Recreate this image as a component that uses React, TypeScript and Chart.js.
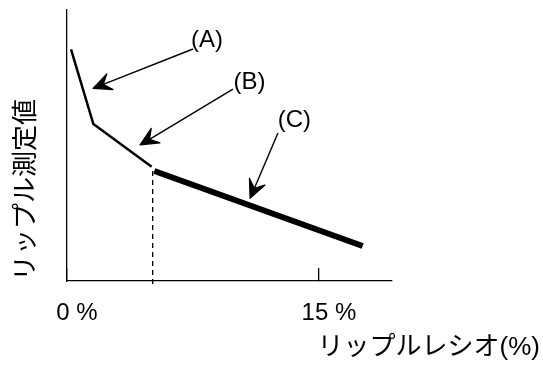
import React, { useEffect, useRef } from "react";
import { Chart, registerables } from "chart.js";
Chart.register(...registerables);

// ---- data ----
const xTickValues = [0, 15];
const xTickLabels = ["0 %", "15 %"];
const xMin = 0;
const xMax = 19.35;
const yMin = 0;
const yMax = 100;

const thinX = [0.24, 1.57, 5.04];
const thinY = [85.5, 57.9, 42.2];
const thickX = [5.2, 17.6];
const thickY = [40.6, 12.9];
const dashX = [5.1, 5.1];
const dashY = [40.6, -2.6];

const noteLabels = ["(A)", "(B)", "(C)"];
const noteLabelX = [8.33, 10.86, 13.54];
const noteLabelY = [88.9, 73.4, 59.2];
const arrowFromX = [7.5, 9.88, 12.56];
const arrowFromY = [85.6, 70.8, 54.6];
const arrowToX = [1.55, 4.35, 10.9];
const arrowToY = [71.1, 50.2, 30.5];

const yTitle = "リップル測定値";
const xTitle = "リップルレシオ(%)";

const FONT = '"Liberation Sans", "Noto Sans CJK JP", sans-serif';

const toPts = (xs: number[], ys: number[]) => xs.map((x, i) => ({ x, y: ys[i] }));

const annotationPlugin = {
  id: "notes",
  afterDatasetsDraw(chart: any) {
    const { ctx, scales } = chart;
    const xs = scales.x;
    const ys = scales.y;
    ctx.save();
    ctx.strokeStyle = "#000";
    ctx.fillStyle = "#000";
    for (let i = 0; i < noteLabels.length; i++) {
      const x1 = xs.getPixelForValue(arrowFromX[i]);
      const y1 = ys.getPixelForValue(arrowFromY[i]);
      const x2 = xs.getPixelForValue(arrowToX[i]);
      const y2 = ys.getPixelForValue(arrowToY[i]);
      const ang = Math.atan2(y1 - y2, x1 - x2);
      const len = 20;
      const notch = 11;
      const spread = (25 * Math.PI) / 180;
      ctx.lineWidth = 1.4;
      ctx.beginPath();
      ctx.moveTo(x1, y1);
      ctx.lineTo(x2 + notch * Math.cos(ang), y2 + notch * Math.sin(ang));
      ctx.stroke();
      ctx.lineWidth = 1.2;
      ctx.lineJoin = "round";
      ctx.beginPath();
      ctx.moveTo(x2, y2);
      ctx.lineTo(x2 + len * Math.cos(ang + spread), y2 + len * Math.sin(ang + spread));
      ctx.lineTo(x2 + notch * Math.cos(ang), y2 + notch * Math.sin(ang));
      ctx.lineTo(x2 + len * Math.cos(ang - spread), y2 + len * Math.sin(ang - spread));
      ctx.closePath();
      ctx.fill();
      ctx.stroke();
      ctx.font = `24px ${FONT}`;
      ctx.textAlign = "center";
      ctx.textBaseline = "middle";
      ctx.fillText(
        noteLabels[i],
        xs.getPixelForValue(noteLabelX[i]),
        ys.getPixelForValue(noteLabelY[i])
      );
    }
    ctx.restore();
  },
  afterDraw(chart: any) {
    const { ctx } = chart;
    ctx.save();
    ctx.fillStyle = "#000";
    ctx.font = `26px ${FONT}`;
    ctx.textAlign = "right";
    ctx.textBaseline = "middle";
    ctx.fillText(xTitle, chart.width - 3, 348);
    ctx.restore();
  },
};

export default function App() {
  const ref = useRef<HTMLCanvasElement | null>(null);
  useEffect(() => {
    document.body.style.margin = "0";
    const chart = new Chart(ref.current as HTMLCanvasElement, {
      type: "line",
      data: {
        datasets: [
          {
            data: toPts(thinX, thinY),
            borderColor: "#000",
            borderWidth: 2.5,
            pointRadius: 0,
            tension: 0,
          },
          {
            data: toPts(thickX, thickY),
            borderColor: "#000",
            borderWidth: 6,
            pointRadius: 0,
            tension: 0,
          },
          {
            data: toPts(dashX, dashY),
            borderColor: "#000",
            borderWidth: 1.3,
            borderDash: [5, 4],
            pointRadius: 0,
            clip: false,
          } as any,
        ],
      },
      options: {
        animation: false,
        responsive: true,
        maintainAspectRatio: false,
        layout: { padding: { top: 10, right: 151, left: 0, bottom: 0 } },
        plugins: { legend: { display: false }, tooltip: { enabled: false } },
        scales: {
          x: {
            type: "linear",
            min: xMin,
            max: xMax,
            afterBuildTicks: (s: any) => {
              s.ticks = xTickValues.map((v) => ({ value: v }));
            },
            afterFit: (s: any) => {
              s.height = 86;
            },
            ticks: {
              color: "#000",
              font: { family: FONT, size: 24 },
              padding: 31,
              labelOffset: 10,
              maxRotation: 0,
              autoSkip: false,
              callback: (v: any) => xTickLabels[xTickValues.indexOf(Number(v))] ?? "",
            },
            grid: {
              display: true,
              drawOnChartArea: false,
              drawTicks: true,
              tickLength: -13,
              color: "#000",
              lineWidth: 1.3,
            },
            border: { display: true, color: "#000", width: 1.3 },
          },
          y: {
            type: "linear",
            min: yMin,
            max: yMax,
            afterFit: (s: any) => {
              s.width = 67;
            },
            ticks: { display: false },
            grid: { display: false, drawTicks: false },
            border: { display: true, color: "#000", width: 1.3 },
            title: {
              display: true,
              text: yTitle,
              align: "start",
              color: "#000",
              font: { family: FONT, size: 26 },
              padding: { top: 11, bottom: 0 },
            },
          },
        },
      },
      plugins: [annotationPlugin],
    });
    return () => chart.destroy();
  }, []);
  return (
    <div style={{ position: "relative", width: 543, height: 367 }}>
      <canvas ref={ref} />
    </div>
  );
}
